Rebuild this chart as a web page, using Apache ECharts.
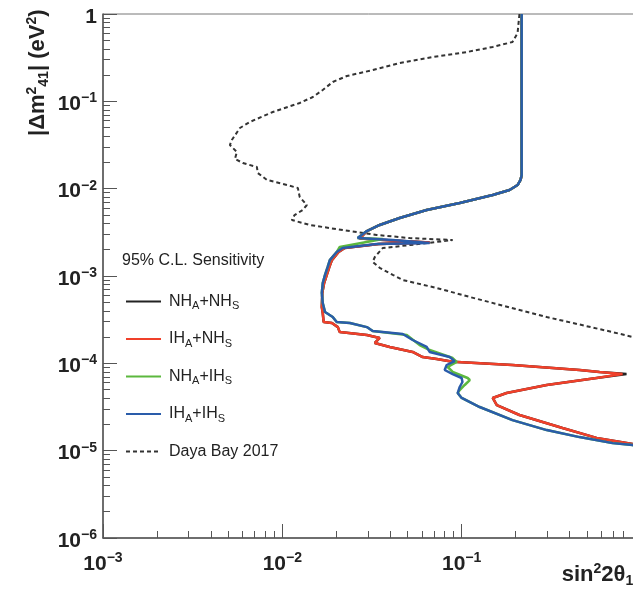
<!DOCTYPE html>
<html><head><meta charset="utf-8">
<script src="https://cdn.jsdelivr.net/npm/echarts@6/dist/echarts.min.js"></script>
<style>html,body{margin:0;padding:0;background:#fff}#c{width:633px;height:596px}</style>
</head><body><div id="c"></div>
<script>
// Series names (legend order)
const seriesNames = ['NH_A+NH_S', 'IH_A+NH_S', 'NH_A+IH_S', 'IH_A+IH_S', 'Daya Bay 2017'];

// [sin^2 2theta_14, |dm^2_41| (eV^2)]
const ihihData = [[0.216,1],[0.216,0.0143],[0.213,0.0126],[0.205,0.0110],[0.185,0.00966],[0.149,0.00846],[0.0975,0.00685],[0.0638,0.0057],[0.0451,0.00461],[0.0349,0.00384],[0.0296,0.00327],[0.0263,0.00272],[0.0413,0.00258],[0.0663,0.00239],[0.0336,0.00232],[0.0217,0.00209],[0.0201,0.00188],[0.0184,0.00152],[0.0179,0.00127],[0.0173,0.00103],[0.0168,0.000831],[0.0166,0.000639],[0.0168,0.00049],[0.0173,0.000387],[0.0191,0.000339],[0.0201,0.000297],[0.0238,0.000289],[0.0296,0.00026],[0.0319,0.000234],[0.0469,0.000217],[0.0533,0.000185],[0.0638,0.000154],[0.0663,0.000135],[0.0857,0.000118],[0.0914,0.000106],[0.0825,9.57e-5],[0.0804,8.39e-5],[0.0891,7.54e-5],[0.1,6.79e-5],[0.101,6.11e-5],[0.0975,5.36e-5],[0.095,4.57e-5],[0.1,4.01e-5],[0.126,3.16e-5],[0.192,2.24e-5],[0.298,1.72e-5],[0.454,1.43e-5],[0.694,1.22e-5],[0.897,1.16e-5],[1.0,1.10e-5]];

const nhihData = [[0.216,1],[0.216,0.0143],[0.213,0.0126],[0.205,0.0110],[0.185,0.00966],[0.149,0.00846],[0.0975,0.00685],[0.0638,0.0057],[0.0451,0.00461],[0.0349,0.00384],[0.0296,0.00327],[0.0263,0.00272],[0.0363,0.00265],[0.0209,0.00215],[0.0201,0.00188],[0.0184,0.00152],[0.0179,0.00127],[0.0173,0.00103],[0.0168,0.000831],[0.0166,0.000639],[0.0168,0.00049],[0.0173,0.000387],[0.0191,0.000339],[0.0201,0.000297],[0.0238,0.000289],[0.0296,0.00026],[0.0319,0.000234],[0.0494,0.000211],[0.0583,0.000162],[0.0663,0.000142],[0.0891,0.000115],[0.0938,0.000104],[0.0836,9.08e-5],[0.0891,7.96e-5],[0.108,6.79e-5],[0.111,6.44e-5],[0.104,5.65e-5],[0.0975,4.95e-5],[0.095,4.57e-5],[0.1,4.01e-5],[0.126,3.16e-5],[0.192,2.24e-5],[0.298,1.72e-5],[0.454,1.43e-5],[0.694,1.22e-5],[0.897,1.16e-5],[1.0,1.10e-5]];

const ihnhData = [[0.216,1],[0.216,0.0143],[0.213,0.0126],[0.205,0.0110],[0.185,0.00966],[0.149,0.00846],[0.0975,0.00685],[0.0638,0.0057],[0.0451,0.00461],[0.0349,0.00384],[0.0296,0.00327],[0.027,0.00268],[0.0413,0.00255],[0.0663,0.00242],[0.0345,0.00232],[0.0223,0.00209],[0.0206,0.00188],[0.0189,0.00152],[0.0183,0.00127],[0.0177,0.00103],[0.0171,0.000831],[0.0167,0.000639],[0.0166,0.000441],[0.0168,0.000377],[0.017,0.000297],[0.0189,0.000289],[0.0204,0.00026],[0.0209,0.000228],[0.0296,0.000211],[0.0349,0.000195],[0.0328,0.000171],[0.0397,0.000154],[0.0533,0.000135],[0.0606,0.000118],[0.0726,0.000112],[0.0891,0.000104],[0.192,9.57e-5],[0.454,8.39e-5],[0.587,7.96e-5],[0.789,7.54e-5],[0.565,6.79e-5],[0.298,5.65e-5],[0.178,4.57e-5],[0.149,4.01e-5],[0.157,3.33e-5],[0.21,2.56e-5],[0.365,1.82e-5],[0.565,1.40e-5],[0.897,1.19e-5],[1.0,1.13e-5]];

const nhnhData = [[0.216,1],[0.216,0.0143],[0.213,0.0126],[0.205,0.0110],[0.185,0.00966],[0.149,0.00846],[0.0975,0.00685],[0.0638,0.0057],[0.0451,0.00461],[0.0349,0.00384],[0.0296,0.00327],[0.027,0.00268],[0.0413,0.00255],[0.0663,0.00242],[0.0345,0.00232],[0.0223,0.00209],[0.0206,0.00188],[0.0189,0.00152],[0.0183,0.00127],[0.0177,0.00103],[0.0171,0.000831],[0.0167,0.000639],[0.0166,0.000441],[0.0168,0.000377],[0.017,0.000297],[0.0189,0.000289],[0.0204,0.00026],[0.0209,0.000228],[0.0296,0.000211],[0.0349,0.000195],[0.0328,0.000171],[0.0397,0.000154],[0.0533,0.000135],[0.0606,0.000118],[0.0726,0.000112],[0.0891,0.000104],[0.192,9.57e-5],[0.454,8.39e-5],[0.587,7.96e-5],[0.83,7.54e-5],[0.565,6.79e-5],[0.298,5.65e-5],[0.178,4.57e-5],[0.149,4.01e-5],[0.157,3.33e-5],[0.21,2.56e-5],[0.365,1.82e-5],[0.565,1.40e-5],[0.897,1.19e-5],[1.0,1.13e-5]];

const dayaBayData = [[0.210,1],[0.205,0.606],[0.192,0.478],[0.149,0.419],[0.107,0.367],[0.0689,0.322],[0.0451,0.275],[0.0319,0.228],[0.0229,0.195],[0.0191,0.1665],[0.0168,0.1348],[0.0148,0.1121],[0.0125,0.0957],[0.00885,0.0755],[0.00659,0.058],[0.0058,0.0495],[0.00523,0.0361],[0.0051,0.0316],[0.00558,0.0263],[0.00544,0.0219],[0.00602,0.0197],[0.00721,0.0177],[0.0073,0.0151],[0.0082,0.0126],[0.0106,0.011],[0.0122,0.0102],[0.0125,0.00802],[0.0137,0.0065],[0.013,0.0057],[0.0117,0.00499],[0.0113,0.00438],[0.0142,0.00384],[0.0217,0.00336],[0.0336,0.00295],[0.0513,0.00272],[0.0891,0.00258],[0.0891,0.00245],[0.0513,0.00226],[0.0363,0.00209],[0.0328,0.00165],[0.0319,0.00145],[0.0349,0.00124],[0.0413,0.00103],[0.0469,0.0009],[0.0726,0.000729],[0.111,0.000575],[0.298,0.000339],[0.694,0.000228],[1.0,0.00019]];

// Axis ranges and tick values
const xRange = [1e-3, 1];
const yRange = [1e-6, 1];
const xMajorTicks = [1e-3, 1e-2, 1e-1, 1];
const yMajorTicks = [1e-6, 1e-5, 1e-4, 1e-3, 1e-2, 1e-1, 1];
const minorMultipliers = [2, 3, 4, 5, 6, 7, 8, 9];

function minorTicksFor(majors) {
  const out = [];
  for (let i = 0; i < majors.length - 1; i++) {
    minorMultipliers.forEach(k => out.push(+(k * majors[i]).toPrecision(6)));
  }
  return out;
}
const xMinorTicks = minorTicksFor(xMajorTicks);
const yMinorTicks = minorTicksFor(yMajorTicks);

const FONT = "'Liberation Sans', Arial, Helvetica, sans-serif";
const colors = ['#222222', '#f0402a', '#5cb83e', '#2a5caa', '#333333'];
const AXIS_COLOR = '#555';

// plot-area geometry (style)
const PLOT_LEFT = 103, PLOT_RIGHT_EDGE = 641, MINOR_TICK_PX = 7;
const GRID_BOX = { left: PLOT_LEFT, top: 14, right: 633 - PLOT_RIGHT_EDGE, bottom: 58, containLabel: false, outerBoundsMode: 'none' };
// minor y tick end, expressed through the log x scale (7 px of 538 px spanning 3 decades)
const xDecades = Math.log10(xRange[1] / xRange[0]);
const yMinorTickEndX = xRange[0] * Math.pow(10, xDecades * MINOR_TICK_PX / (PLOT_RIGHT_EDGE - PLOT_LEFT));

function powLabel(v) {
  const e = Math.round(Math.log10(v));
  return e === 0 ? '{b|1}' : '{b|10}{s|\u2212' + (-e) + '}';
}
const labelRich = {
  b: { fontSize: 21, fontWeight: 'bold', fontFamily: FONT, color: '#222', lineHeight: 26 },
  s: { fontSize: 14, fontWeight: 'bold', fontFamily: FONT, color: '#222', verticalAlign: 'top', lineHeight: 15 }
};

function majorAxis(range, ticks, labelOpts) {
  return {
    type: 'log', logBase: 10, min: range[0], max: range[1], gridIndex: 0,
    axisLine: { show: true, onZero: false, lineStyle: { color: AXIS_COLOR, width: 1.5 } },
    axisTick: { show: true, inside: true, length: 14, customValues: ticks, lineStyle: { color: AXIS_COLOR, width: 1 } },
    minorTick: { show: false },
    splitLine: { show: false },
    axisLabel: Object.assign({ show: true, formatter: powLabel, rich: labelRich, customValues: ticks, hideOverlap: false }, labelOpts)
  };
}
function minorXAxis(range, ticks) {
  return {
    type: 'log', min: range[0], max: range[1], position: 'bottom', gridIndex: 1,
    axisLine: { show: true, lineStyle: { color: 'rgba(0,0,0,0)' } },
    axisTick: { show: true, inside: true, length: MINOR_TICK_PX, interval: 0, customValues: ticks, lineStyle: { color: AXIS_COLOR, width: 1 } },
    splitLine: { show: false },
    axisLabel: { show: false }
  };
}

const chart = echarts.init(document.getElementById('c'), null, { renderer: 'canvas' });
const dataMap = { 'NH_A+NH_S': nhnhData, 'IH_A+NH_S': ihnhData, 'NH_A+IH_S': nhihData, 'IH_A+IH_S': ihihData, 'Daya Bay 2017': dayaBayData };
const drawOrder = ['Daya Bay 2017', 'NH_A+NH_S', 'IH_A+NH_S', 'NH_A+IH_S', 'IH_A+IH_S'];

const xMain = majorAxis(xRange, xMajorTicks.filter(v => v < 1), { margin: 13 });
xMain.position = 'bottom';
xMain.name = '{n|sin}{sp|2}{n|2\u03B8}{sb|14}';
xMain.nameLocation = 'end';
xMain.nameGap = 0;
xMain.nameTextStyle = {
  align: 'right', verticalAlign: 'top', padding: [24, 0, 0, 0],
  rich: {
    n: { fontSize: 22, fontWeight: 'bold', fontFamily: FONT, color: '#222', lineHeight: 26 },
    sp: { fontSize: 14, fontWeight: 'bold', fontFamily: FONT, color: '#222', verticalAlign: 'top', lineHeight: 12 },
    sb: { fontSize: 14, fontWeight: 'bold', fontFamily: FONT, color: '#222', verticalAlign: 'bottom', lineHeight: 6 }
  }
};
const yMain = majorAxis(yRange, yMajorTicks, { margin: 6, padding: [6, 0, 0, 0] });
yMain.position = 'left';

const lineSeries = drawOrder.map(n => {
  const i = seriesNames.indexOf(n);
  return {
    name: n, type: 'line', data: dataMap[n], showSymbol: false, symbol: 'none',
    xAxisIndex: 0, yAxisIndex: 0,
    color: colors[i], smooth: false, clip: true,
    lineStyle: i === 4 ? { color: colors[i], width: 2, type: [4, 3] } : { color: colors[i], width: 2.5 },
    emphasis: { disabled: true }
  };
});
// y-axis minor ticks, drawn as short segments through the axes' own scales
lineSeries.push({
  name: 'yMinorTicks', type: 'line', data: [], xAxisIndex: 0, yAxisIndex: 0, silent: true,
  markLine: {
    silent: true, symbol: ['none', 'none'], animation: false,
    label: { show: false },
    emphasis: { disabled: true },
    lineStyle: { color: AXIS_COLOR, width: 1, type: 'solid' },
    data: yMinorTicks.map(v => [{ coord: [xRange[0], v] }, { coord: [yMinorTickEndX, v] }])
  }
});

chart.setOption({
  animation: false,
  backgroundColor: '#fff',
  title: {
    text: '95% C.L. Sensitivity', left: 122, top: 253, padding: 0,
    textStyle: { fontSize: 16, fontWeight: 'normal', color: '#222', fontFamily: FONT }
  },
  legend: {
    orient: 'vertical', left: 125, top: 291.5, padding: 0,
    itemWidth: 35, itemHeight: 14, itemGap: 17.5, selectedMode: false,
    data: seriesNames,
    itemStyle: { opacity: 0 },
    lineStyle: { width: 2 },
    formatter: n => n.replace(/_([A-Z])/g, '{sub|$1}'),
    textStyle: {
      fontSize: 16, color: '#222', fontFamily: FONT, lineHeight: 20, padding: [0, 0, 0, 3],
      rich: { sub: { fontSize: 11, color: '#222', fontFamily: FONT, verticalAlign: 'bottom', lineHeight: 4 } }
    }
  },
  grid: [
    Object.assign({ show: true, borderColor: '#777', borderWidth: 1 }, GRID_BOX),
    Object.assign({ show: false }, GRID_BOX)
  ],
  xAxis: [xMain, minorXAxis(xRange, xMinorTicks)],
  yAxis: [yMain, { type: 'log', min: yRange[0], max: yRange[1], gridIndex: 1, show: false }],
  graphic: [{
    type: 'text', x: 38, y: 136, rotation: Math.PI / 2,
    style: {
      text: '{t|\u007C\u0394m}{sp|2}{sb|41}{t|\u007C (eV}{sp|2}{t|)}',
      align: 'left', verticalAlign: 'middle',
      rich: {
        t: { fontSize: 22, fontWeight: 'bold', fontFamily: FONT, fill: '#222', lineHeight: 26 },
        sp: { fontSize: 14, fontWeight: 'bold', fontFamily: FONT, fill: '#222', verticalAlign: 'top', lineHeight: 12 },
        sb: { fontSize: 14, fontWeight: 'bold', fontFamily: FONT, fill: '#222', verticalAlign: 'bottom', lineHeight: 6 }
      }
    }
  }],
  series: lineSeries
});
</script>
</body></html>
